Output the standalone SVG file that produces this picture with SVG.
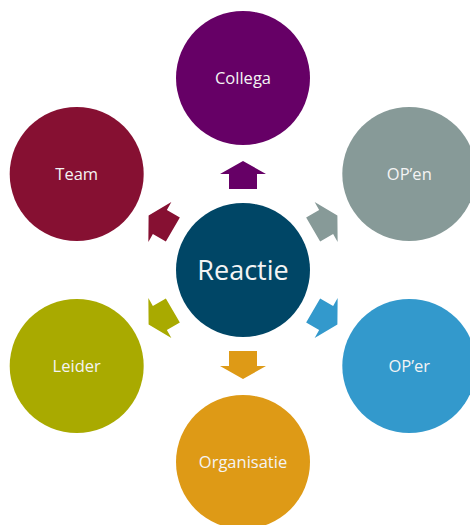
<svg xmlns="http://www.w3.org/2000/svg" width="470" height="525" viewBox="0 0 470 525">
<style>
.lbl{font-family:"Open Sans","Liberation Sans",sans-serif;font-size:16.5px;fill:#F4F4F4;text-anchor:middle}
.big{font-family:"Open Sans","Liberation Sans",sans-serif;font-size:27px;fill:#F4F4F4;text-anchor:middle}
</style>
<defs>
<polygon id="arr" points="0,-109 23,-96 14,-96 14,-81 -14,-81 -14,-96 -23,-96"/>
</defs>
<rect width="470" height="525" fill="#FFFFFF"/>
<g id="connectors">
<use href="#arr" transform="translate(243,270) rotate(0)" fill="#660066"/>
<use href="#arr" transform="translate(243,270) rotate(60)" fill="#879A98"/>
<use href="#arr" transform="translate(243,270) rotate(120)" fill="#3399CC"/>
<use href="#arr" transform="translate(243,270) rotate(180)" fill="#DE9A16"/>
<use href="#arr" transform="translate(243,270) rotate(240)" fill="#A9AA00"/>
<use href="#arr" transform="translate(243,270) rotate(300)" fill="#861032"/>
</g>
<g id="reactie"><circle cx="243" cy="270" r="67" fill="#004666"/><text class="big" x="243" y="280">Reactie</text></g>
<g id="collega"><circle cx="243" cy="78" r="67" fill="#660066"/><text class="lbl" x="243" y="84">Collega</text></g>
<g id="open"><circle cx="409.3" cy="174" r="67" fill="#879A98"/><text class="lbl" x="409.3" y="180">OP’en</text></g>
<g id="oper"><circle cx="409.3" cy="366" r="67" fill="#3399CC"/><text class="lbl" x="409.3" y="372">OP’er</text></g>
<g id="organisatie"><circle cx="243" cy="462" r="67" fill="#DE9A16"/><text class="lbl" x="243" y="468">Organisatie</text></g>
<g id="leider"><circle cx="76.7" cy="366" r="67" fill="#A9AA00"/><text class="lbl" x="76.7" y="372">Leider</text></g>
<g id="team"><circle cx="76.7" cy="174" r="67" fill="#861032"/><text class="lbl" x="76.7" y="180">Team</text></g>
</svg>
